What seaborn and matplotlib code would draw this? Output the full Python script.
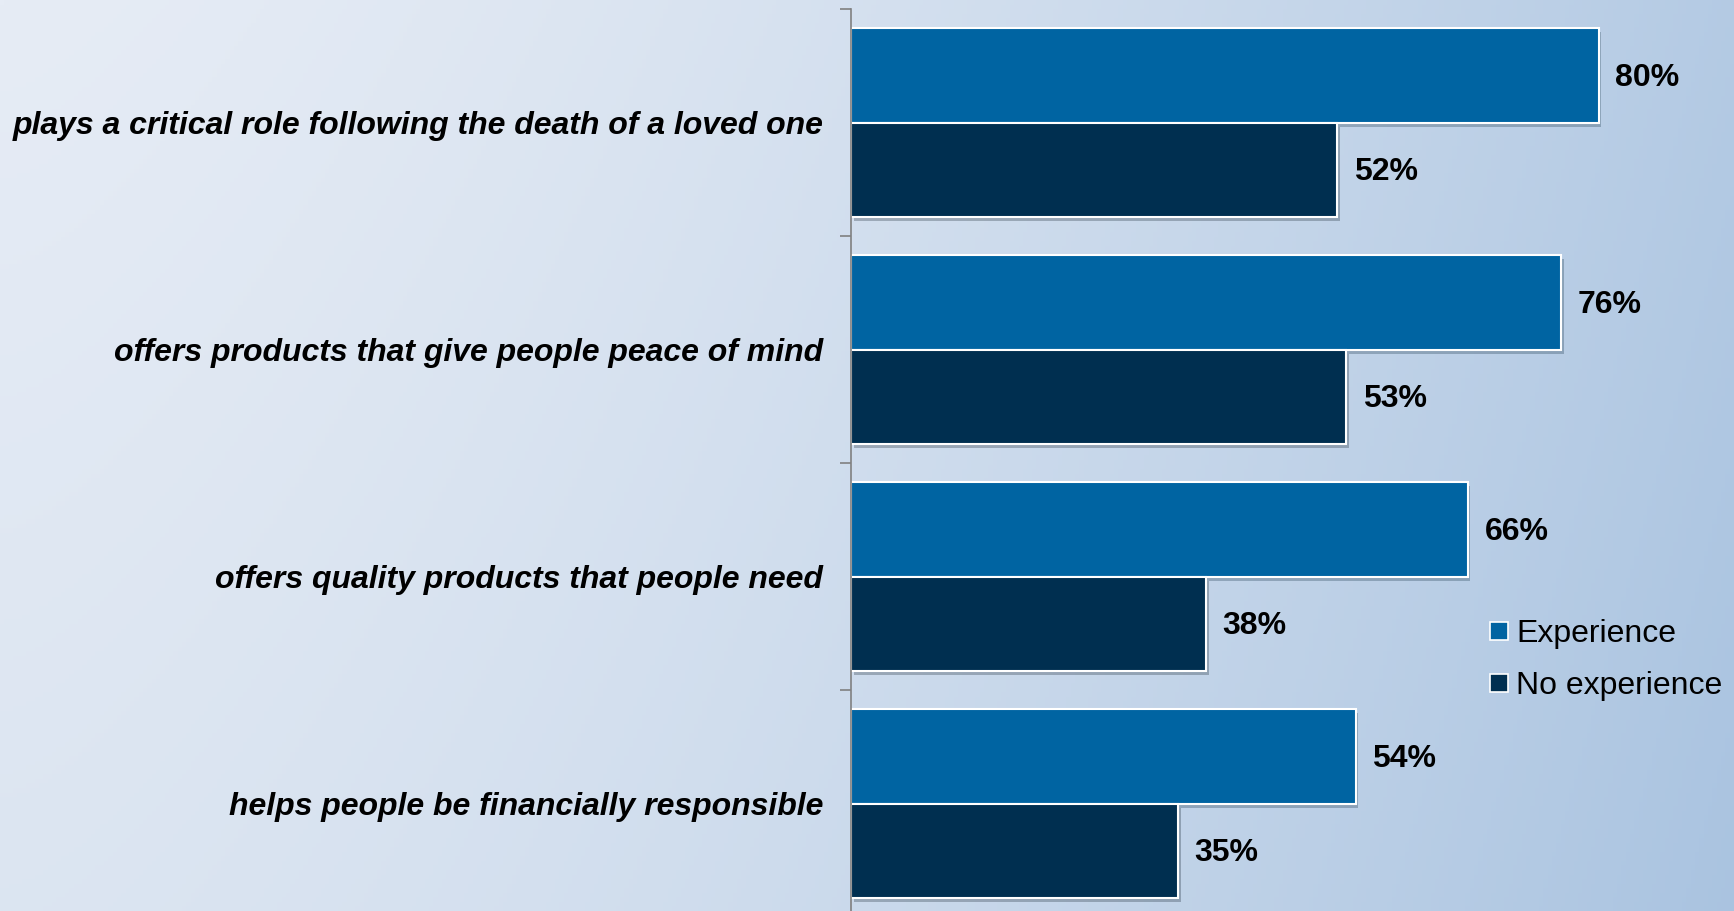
import numpy as np
import pandas as pd
import matplotlib
matplotlib.use("Agg")
import matplotlib.pyplot as plt
import matplotlib.patheffects as pe
from matplotlib.lines import Line2D
import seaborn as sns

# chart data
categories = [
    "plays a critical role following the death of a loved one",
    "offers products that give people peace of mind",
    "offers quality products that people need",
    "helps people be financially responsible",
]
experience = [80, 76, 66, 54]
no_experience = [52, 53, 38, 35]
series_names = ["Experience", "No experience"]
series_colors = ["#0064a2", "#002f50"]

df = pd.DataFrame({
    "statement": categories * 2,
    "value": experience + no_experience,
    "group": [series_names[0]] * len(categories) + [series_names[1]] * len(categories),
})

sns.set_theme(style="white")
plt.rcParams["font.family"] = ["Liberation Sans", "DejaVu Sans"]
plt.rcParams["text.color"] = "black"
plt.rcParams["ytick.color"] = "black"

fig = plt.figure(figsize=(17.34, 9.11), dpi=100)

# gradient background (light grey-blue on the left, bluer on the right)
bg = fig.add_axes([0, 0, 1, 1], zorder=0)
xx = np.linspace(0, 1, 400)
yy = np.linspace(0, 1, 200)
X, Y = np.meshgrid(xx, yy)
left_col = np.array([0xe6, 0xec, 0xf5]) / 255
right_col = np.array([0xa6, 0xc1, 0xdf]) / 255
t = np.clip(0.78 * X ** 1.5 + 0.16 * Y, 0, 1)
img = left_col[None, None, :] * (1 - t[..., None]) + right_col[None, None, :] * t[..., None]
bg.imshow(img, aspect="auto", extent=[0, 1, 0, 1], origin="upper")
bg.axis("off")

ax = fig.add_axes([0.4908, -0.0066, 0.5092, 0.9967], zorder=1)
ax.patch.set_alpha(0)

sns.barplot(data=df, x="value", y="statement", hue="group", orient="h",
            palette=series_colors, saturation=1, width=0.83, ax=ax,
            edgecolor="white", linewidth=1.5, legend=False)

shadow = [pe.SimplePatchShadow(offset=(2, -3), alpha=0.25), pe.Normal()]
for p in ax.patches:
    p.set_path_effects(shadow)

ax.set_xlim(0, 94.5)
ax.set_ylim(3.5, -0.5)
ax.set_xlabel("")
ax.set_ylabel("")
ax.set_xticks([])

for sp in ["top", "right", "bottom"]:
    ax.spines[sp].set_visible(False)
ax.spines["left"].set_color("#808080")
ax.spines["left"].set_linewidth(1.2)

ax.set_yticks(range(len(categories)))
ax.set_yticklabels(categories, fontsize=23, fontweight="bold", fontstyle="italic")
ax.tick_params(axis="y", which="major", length=0, pad=20)
ax.set_yticks([-0.5, 0.5, 1.5, 2.5], minor=True)
ax.tick_params(axis="y", which="minor", length=8, width=1.2, color="#808080", left=True)

for cont in ax.containers:
    texts = ax.bar_label(cont, labels=[f"{v:.0f}%" for v in cont.datavalues],
                         padding=12, fontsize=23, fontweight="bold")
    for txt in texts:
        txt.xyann = (txt.xyann[0], -2)

handles = [Line2D([0], [0], marker="s", linestyle="", markersize=13,
                  markerfacecolor=c, markeredgecolor="white", markeredgewidth=1.2)
           for c in series_colors]
fig.legend(handles, series_names, loc="upper left", bbox_to_anchor=(0.857, 0.320),
           frameon=False, fontsize=23, handlelength=0.8, handletextpad=0.15,
           labelspacing=0.68, borderaxespad=0, borderpad=0)

fig.savefig("out.png", dpi=100)
